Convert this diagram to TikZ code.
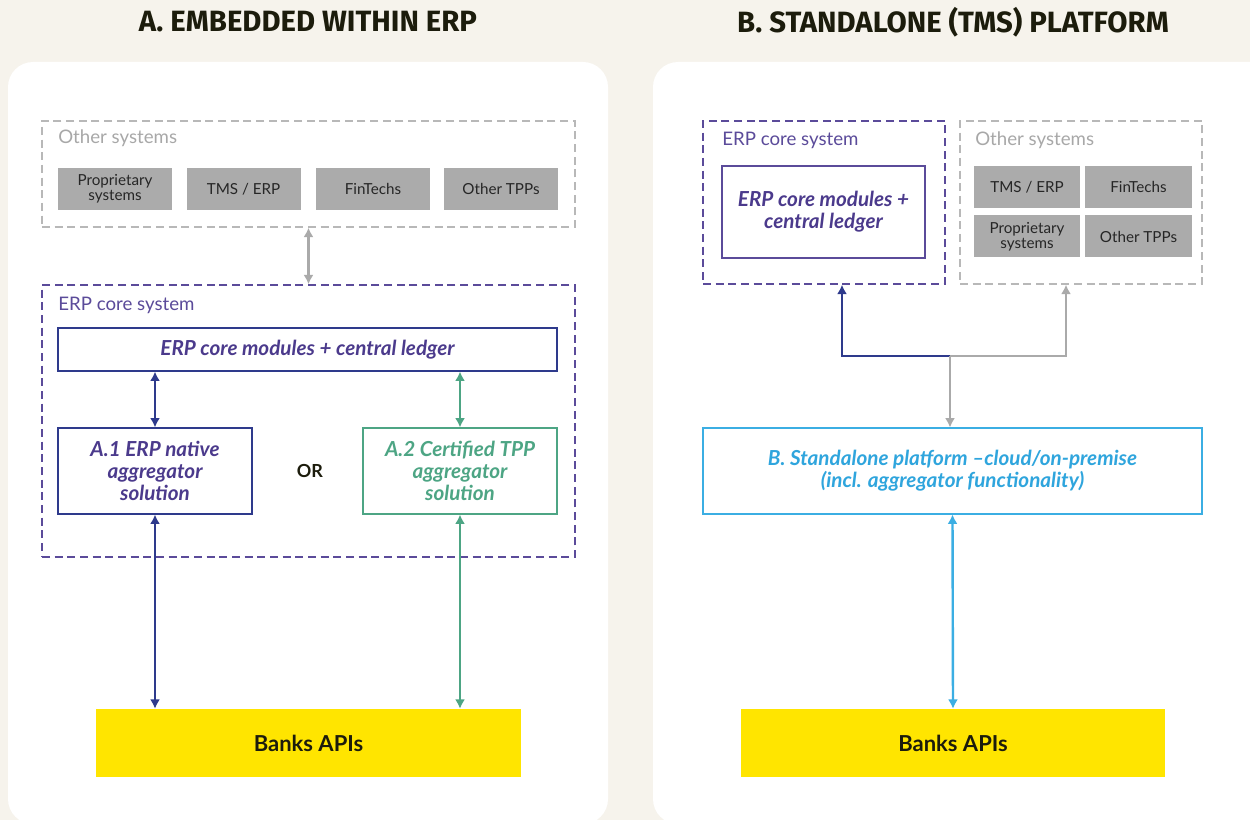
\documentclass[tikz,border=0pt]{standalone}
\usepackage{fontspec}
\setmainfont{Lato}
\newfontfamily\titlefont{Fira Sans}
\usetikzlibrary{arrows.meta,calc}
\newdimen\pxu \pxu=0.75pt
\definecolor{bgc}{HTML}{F6F3EC}
\definecolor{titc}{HTML}{1C1C0C}
\definecolor{gdash}{HTML}{B8B8B8}
\definecolor{glab}{HTML}{A8A8A8}
\definecolor{gfill}{HTML}{ABABAB}
\definecolor{gtext}{HTML}{262626}
\definecolor{pdash}{HTML}{5B4B9A}
\definecolor{dblue}{HTML}{2E3A8C}
\definecolor{ptext}{HTML}{4B3A8C}
\definecolor{grn}{HTML}{4DA584}
\definecolor{lblue}{HTML}{3BAEE3}
\definecolor{lbtext}{HTML}{2FA5DD}
\definecolor{ylw}{HTML}{FFE500}
\definecolor{garr}{HTML}{AAAAAA}
\tikzset{
  x=0.75pt, y=-0.75pt,
  ttl/.style={font=\titlefont\bfseries\fontsize{22}{26}\selectfont, text=titc},
  grpgray/.style={draw=gdash, line width=1.1pt, dash pattern=on 6pt off 3.5pt, inner sep=0pt},
  grppurp/.style={draw=pdash, line width=1.1pt, dash pattern=on 6pt off 3.5pt, inner sep=0pt},
  grplab/.style={anchor=west, inner sep=0pt, font=\fontsize{14}{16}\selectfont},
  gbox/.style={fill=gfill, draw=none, inner sep=0pt, text=gtext, align=center,
    font=\fontsize{11.4}{11}\selectfont},
  sbox/.style={draw, fill=white, line width=0.9pt, inner sep=0pt, align=center,
    font=\bfseries\itshape\fontsize{15.5}{16.5}\selectfont},
  banks/.style={fill=ylw, draw=none, inner sep=0pt, text=titc,
    font=\bfseries\fontsize{16.5}{19}\selectfont, minimum width=425\pxu, minimum height=68\pxu},
  arr/.style={line width=1.8pt, {Latex[length=7pt,width=7.5pt]}-{Latex[length=7pt,width=7.5pt]}},
  arre/.style={line width=1.8pt, -{Latex[length=7pt,width=7.5pt]}},
}
\begin{document}
\begin{tikzpicture}
\useasboundingbox (0,0) rectangle (1250,820);
\fill[bgc] (0,0) rectangle (1250,820);
% panels
\fill[white, rounded corners=25\pxu] (8,62) rectangle (608,824);
\fill[white, rounded corners=25\pxu] (653,62) rectangle (1276,824);
% titles
\node[ttl] (tA) at (308,22) {A. EMBEDDED WITHIN ERP};
\node[ttl] (tB) at (953,22) {B. STANDALONE (TMS) PLATFORM};

% ===== Panel A =====
\node[grpgray, minimum width=533\pxu, minimum height=106\pxu] (othA) at (308.5,174) {};
\node[grplab, text=glab] (othAl) at (58,138) {Other systems};
\node[gbox, minimum width=114\pxu, minimum height=42\pxu] (propA) at (115,189) {Proprietary\\systems};
\node[gbox, minimum width=114\pxu, minimum height=42\pxu] (tmsA) at (243.5,189) {TMS / ERP};
\node[gbox, minimum width=114\pxu, minimum height=42\pxu] (finA) at (373,189) {FinTechs};
\node[gbox, minimum width=114\pxu, minimum height=42\pxu] (tppA) at (501,189) {Other TPPs};

\node[grppurp, minimum width=533\pxu, minimum height=272\pxu] (erpA) at (308.5,421) {};
\node[grplab, text=pdash] (erpAl) at (58,305) {ERP core system};
\node[sbox, draw=dblue, text=ptext, minimum width=499\pxu, minimum height=43\pxu] (coreA) at (307.5,349.5) {ERP core modules + central ledger};
\node[sbox, draw=dblue, text=ptext, minimum width=194\pxu, minimum height=86\pxu] (a1) at (155,471) {A.1 ERP native\\aggregator\\solution};
\node[sbox, draw=grn, text=grn, minimum width=194\pxu, minimum height=86\pxu] (a2) at (460,471) {A.2 Certified TPP\\aggregator\\solution};
\node[font=\bfseries\fontsize{13.5}{15}\selectfont, text=titc] (orA) at (310,471) {OR};
\node[banks] (banksA) at (308.5,743) {Banks APIs};

\draw[arr, garr] (othA.south) -- (erpA.north);
\draw[arr, dblue] (a1.north |- coreA.south) -- (a1.north);
\draw[arr, grn] (a2.north |- coreA.south) -- (a2.north);
\draw[arr, dblue] (a1.south) -- (a1.south |- banksA.north);
\draw[arr, grn] (a2.south) -- (a2.south |- banksA.north);

% ===== Panel B =====
\node[grppurp, minimum width=242\pxu, minimum height=163\pxu] (erpB) at (824,202.5) {};
\node[grplab, text=pdash] (erpBl) at (722,140) {ERP core system};
\node[sbox, draw=pdash, text=ptext, minimum width=203\pxu, minimum height=92\pxu] (coreB) at (823.5,212) {ERP core modules +\\central ledger};
\node[grpgray, minimum width=242\pxu, minimum height=163\pxu] (othB) at (1081,202.5) {};
\node[grplab, text=glab] (othBl) at (975,140) {Other systems};
\node[gbox, minimum width=106\pxu, minimum height=42\pxu] (tmsB) at (1027,187) {TMS / ERP};
\node[gbox, minimum width=107\pxu, minimum height=42\pxu] (finB) at (1138.5,187) {FinTechs};
\node[gbox, minimum width=106\pxu, minimum height=42\pxu] (propB) at (1027,236.5) {Proprietary\\systems};
\node[gbox, minimum width=107\pxu, minimum height=42\pxu] (tppB) at (1138.5,236.5) {Other TPPs};

\node[sbox, draw=lblue, text=lbtext, line width=0.8pt, minimum width=499\pxu, minimum height=86\pxu] (platB) at (952.5,471) {B. Standalone platform --cloud/on-premise\\(incl. aggregator functionality)};
\node[banks, minimum width=424\pxu] (banksB) at (953,743) {Banks APIs};

\coordinate (jB) at (950,356);
\draw[arre, dblue] (jB) -| ([xshift=18\pxu]erpB.south);
\draw[arre, garr] (jB) -| ([xshift=-15\pxu]othB.south);
\draw[arre, garr] (jB) -- (jB |- platB.north);
\draw[arr, lblue] (platB.south) -- (banksB.north);
\end{tikzpicture}
\end{document}
